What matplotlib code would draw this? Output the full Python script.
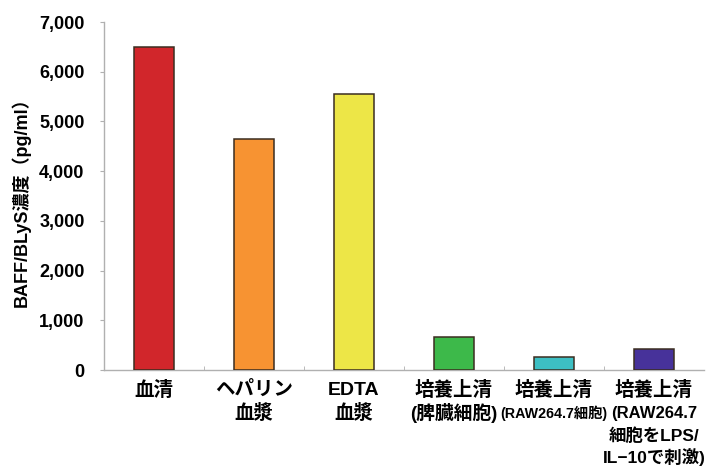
import matplotlib
matplotlib.use("Agg")
import matplotlib.pyplot as plt
import numpy as np

plt.rcParams['font.family'] = ['Liberation Sans', 'Noto Sans CJK JP', 'DejaVu Sans']

# data
samples = ['血清', 'ヘパリン血漿', 'EDTA血漿', '培養上清（脾臓細胞）',
           '培養上清（RAW264.7細胞）', '培養上清（RAW264.7細胞をLPS/IL-10で刺激）']
values = [6490, 4650, 5560, 660, 270, 425]
colors = ['#d1262b', '#f79332', '#ede647', '#3db94a', '#3dbfc3', '#47329a']

# label lines under each bar, with a font size per line
label_lines = [
    [('血清', 14)],
    [('ヘパリン', 14), ('血漿', 14)],
    [('EDTA', 14), ('血漿', 14)],
    [('培養上清', 14), ('(脾臓細胞)', 13.5)],
    [('培養上清', 14), ('(RAW264.7細胞)', 10.3)],
    [('培養上清', 14), ('(RAW264.7', 12), ('細胞をLPS/', 12.5), ('IL−10で刺激)', 12.5)],
]
yticks = [0, 1000, 2000, 3000, 4000, 5000, 6000, 7000]
ylabel = 'BAFF/BLyS濃度（pg/ml）'

fig = plt.figure(figsize=(7.09, 4.69), dpi=100)
ax = fig.add_axes([104/709, 1 - 370/469, 600/709, 348/469])

x = np.arange(len(samples))
ax.bar(x, values, width=0.4, color=colors, edgecolor='#3b2d20', linewidth=1.1, zorder=3)

ax.set_xlim(-0.5, len(samples) - 0.5)
ax.set_ylim(0, 7000)
ax.set_yticks(yticks)
ax.set_yticklabels([f'{v:,}' for v in yticks], fontsize=13, fontweight='bold')
ax.tick_params(axis='y', length=3, color='#b0b0b0', pad=11)

ax.set_xticks(x)
ax.set_xticklabels([])
ax.tick_params(axis='x', which='major', length=0)
ax.set_xticks(x[:-1] + 0.5, minor=True)
ax.tick_params(axis='x', which='minor', direction='in', length=3, color='#b0b0b0')

for s in ['top', 'right']:
    ax.spines[s].set_visible(False)
for s in ['left', 'bottom']:
    ax.spines[s].set_color('#b0b0b0')
    ax.spines[s].set_linewidth(1.0)

offsets_px = [20, 43, 66, 87]
for i, lines in enumerate(label_lines):
    for k, (txt, fs) in enumerate(lines):
        ax.annotate(txt, xy=(i, 0), xycoords=('data', 'axes fraction'),
                    xytext=(0, -offsets_px[k] * 0.72), textcoords='offset points',
                    ha='center', va='center', fontsize=fs, fontweight='bold')

fig.text(21/709, 1 - 198/469, ylabel, rotation=90, ha='center', va='center',
         fontsize=13, fontweight='bold')

fig.savefig('out.png', dpi=100)
